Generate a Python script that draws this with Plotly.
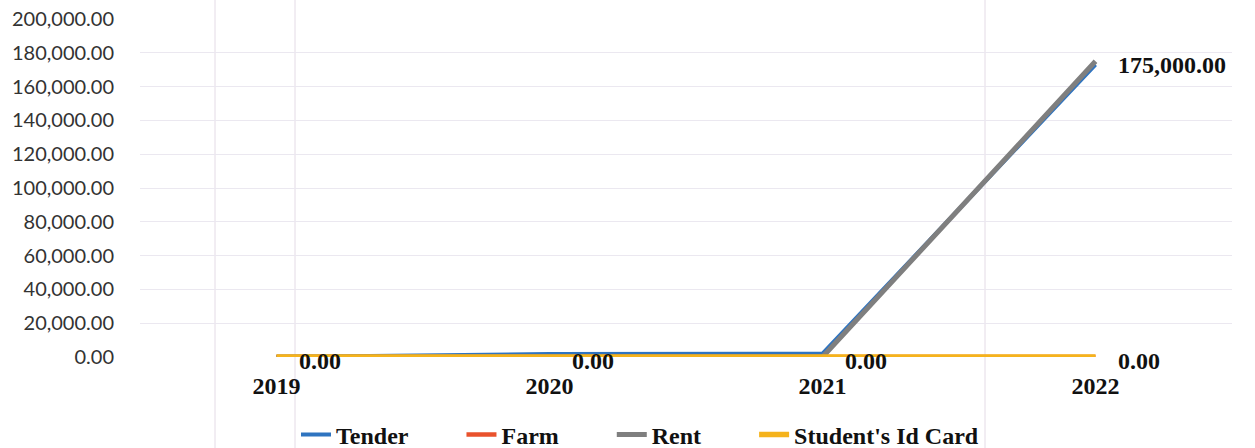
import plotly.graph_objects as go

# Yearly amounts per revenue source
years = ["2019", "2020", "2021", "2022"]
tender = [0, 1800, 2000, 173000]
farm = [0, 0, 0, 0]
rent = [0, 0, 0, 175000]
student_id = [0, 0, 0, 0]

y_ticks = list(range(0, 200001, 20000))

series = [
    ("Tender", tender, "#2f74c0", 4),
    ("Farm", farm, "#e9522c", 4.5),
    ("Rent", rent, "#7f7f7f", 5),
    ("Student's Id Card", student_id, "#f5b31c", 5.5),
]

serif_bold = "Liberation Serif"
PLOT_L, PLOT_R, PLOT_T, PLOT_B = 140, 1232, 19, 357
NBSP = "\u00a0"

fig = go.Figure()
for k, (name, vals, color, w) in enumerate(series):
    pad = NBSP * 8 if k < len(series) - 1 else ""
    fig.add_trace(go.Scatter(
        x=list(range(len(years))), y=vals,
        name=f"<b>{name}</b>{pad}",
        mode="lines", line=dict(color=color, width=w),
    ))

# Value labels: every Student's Id Card point, plus the Rent peak
label_points = [(i, v) for i, v in enumerate(student_id)]
label_points.append((len(rent) - 1, max(rent)))
for i, v in label_points:
    fig.add_annotation(
        x=i, y=v, text=f"<b>{v:,.2f}</b>", showarrow=False,
        xanchor="left", yanchor="middle", xshift=20, yshift=-4,
        font=dict(family=serif_bold, size=24, color="#111111"),
    )

# Faint vertical fold lines across the sheet
for xp in (215, 295, 985):
    xf = (xp - PLOT_L) / (PLOT_R - PLOT_L)
    fig.add_shape(type="line", xref="paper", yref="paper",
                  x0=xf, x1=xf, y0=-0.3, y1=1.06,
                  line=dict(color="#e4dbe6", width=1), layer="below")

plot_h = PLOT_B - PLOT_T
fig.update_layout(
    width=1255, height=448,
    margin=dict(l=PLOT_L, r=1255 - PLOT_R, t=PLOT_T, b=448 - PLOT_B,
                autoexpand=False),
    paper_bgcolor="white", plot_bgcolor="white",
    showlegend=True,
    legend=dict(
        orientation="h", x=(640 - PLOT_L) / (PLOT_R - PLOT_L), xanchor="center",
        y=(PLOT_B - 435) / plot_h, yanchor="middle",
        font=dict(family=serif_bold, size=24, color="#111111"),
        tracegroupgap=0,
    ),
    xaxis=dict(
        range=[-0.5, 3.5], tickvals=list(range(len(years))),
        ticktext=[f"<b>{y}</b>" for y in years],
        showgrid=False, zeroline=False, showline=False, automargin=False,
        tickfont=dict(family=serif_bold, size=24, color="#111111"),
        ticklabelstandoff=12,
    ),
    yaxis=dict(
        range=[0, 200000], tickvals=y_ticks,
        ticktext=[f"{v:,.2f}" for v in y_ticks],
        showgrid=True, gridcolor="#ebe8f0", gridwidth=1,
        zeroline=False, showline=False, automargin=False,
        tickfont=dict(family="Lato", size=20, color="#333333"),
        ticklabelstandoff=25,
    ),
)

fig.write_html("out.html")
